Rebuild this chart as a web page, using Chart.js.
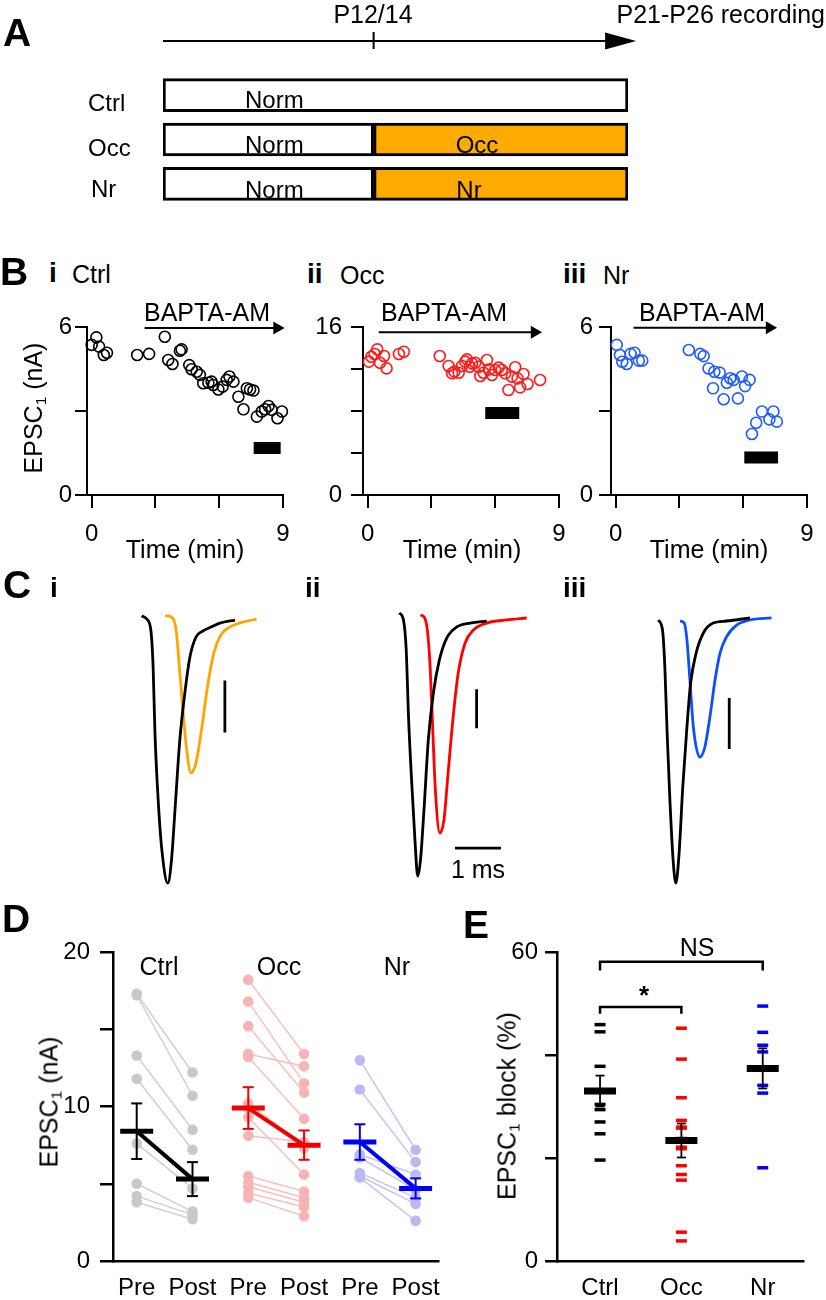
<!DOCTYPE html>
<html><head><meta charset="utf-8"><title>Figure</title>
<script src="https://cdn.jsdelivr.net/npm/chart.js@4.4.1/dist/chart.umd.min.js"></script>
<style>
html,body{margin:0;padding:0;background:#fff;}
#fig{position:relative;width:826px;height:1300px;overflow:hidden;background:#fff;font-family:"Liberation Sans",Arial,Helvetica,sans-serif;color:#000;}
#fig canvas{position:absolute;}
.t{position:absolute;white-space:nowrap;}
.t sub{font-size:0.62em;line-height:0;vertical-align:-0.28em;}
</style></head><body><div id="fig"></div>
<script>
// ================= DATA =================
// A: rearing schedule (schematic postnatal days)
const groupsA = ['Ctrl', 'Occ', 'Nr'];
const rearStart = 0;
const rearSwitch = 13;      // P12/14
const rearEnd = 28.7;       // P21-P26 recording
const timelineEnd = 29.2;

// B: EPSC1 (nA) vs time (min)
const bTimeTicks = [0, 3, 6, 9];
const bTimeLabels = ['0', '', '', '9'];
const biTime = [0.0,0.22,0.35,0.57,0.72,2.14,2.70,3.44,3.60,3.80,4.15,4.23,4.59,4.70,4.94,5.09,5.25,5.49,5.64,5.72,5.96,6.16,6.35,6.48,6.67,6.90,7.14,7.30,7.45,7.61,7.77,8.00,8.16,8.32,8.47,8.74,8.95];
const biAmp  = [5.36,5.63,5.30,5.00,5.08,5.00,5.04,5.65,4.82,4.68,5.15,5.20,4.64,4.49,4.40,4.29,3.99,4.01,4.05,3.93,3.77,3.87,4.11,4.23,4.05,3.51,3.06,3.81,3.77,3.73,2.80,2.98,3.06,3.18,3.04,2.74,2.98];
const biiTime = [0.06,0.17,0.33,0.45,0.58,0.77,0.89,1.47,1.70,3.39,3.81,3.97,4.08,4.28,4.44,4.59,4.67,4.80,4.91,5.06,5.22,5.30,5.45,5.61,5.73,5.85,6.00,6.16,6.31,6.47,6.62,6.78,6.94,7.05,7.17,7.33,7.52,8.11];
const biiAmp  = [12.7,13.17,13.43,13.87,12.6,13.24,12.06,13.43,13.65,13.24,12.29,11.59,11.75,11.65,12.29,12.7,12.92,12.22,12.54,12.6,12.22,11.33,11.65,12.86,11.97,11.43,11.9,12.13,11.9,11.59,10.0,11.27,12.16,11.11,10.25,11.52,10.57,10.95];
const biiiTime = [0.05,0.20,0.31,0.52,0.70,0.89,1.09,1.25,3.44,3.98,4.14,4.37,4.64,4.89,4.58,5.08,5.23,5.39,5.55,5.75,5.94,6.09,6.30,6.41,6.61,6.88,7.23,7.42,7.58];
const biiiAmp  = [5.36,5.00,4.76,4.68,5.04,5.08,4.80,4.80,5.18,5.04,4.96,4.52,4.40,4.37,3.81,3.42,4.01,4.17,4.11,3.45,4.23,3.89,4.11,2.18,2.58,2.98,2.70,2.98,2.62];
const biYTicks = [0, 3, 6];      const biYLabels = ['0', '', '6'];
const biiYTicks = [0, 4, 8, 12, 16]; const biiYLabels = ['0', '', '', '', '16'];
const biiiYTicks = [0, 3, 6];    const biiiYLabels = ['0', '', '6'];
const biBapta = [2.49, 8.72];   const biBaptaLevel = 5.96;
const biiBapta = [0.52, 7.85];  const biiBaptaLevel = 15.5;
const biiiBapta = [0.84, 7.24]; const biiiBaptaLevel = 5.97;
const biWindow = [7.62, 8.89];   const biWindowLevel = 1.68;
const biiWindow = [5.53, 7.13];  const biiWindowLevel = 7.8;
const biiiWindow = [6.05, 7.64]; const biiiWindowLevel = 1.34;

// C: example EPSC traces (time ms, current nA)
const ciPreT  = [0.47,0.58,0.67,0.72,0.76,0.83,0.91,1.04,1.12,1.20,1.30,1.41,1.52,1.65,1.80,1.99,2.17,2.50];
const ciPreI  = [0.04,-0.02,-0.23,-0.94,-2.21,-3.50,-4.46,-5.10,-4.65,-3.63,-2.35,-1.44,-0.75,-0.37,-0.25,-0.17,-0.10,-0.04];
const ciPostT = [0.98,1.12,1.22,1.29,1.38,1.45,1.54,1.65,1.78,1.90,2.04,2.19,2.39,2.67,2.97];
const ciPostI = [0.04,0.02,-0.23,-0.94,-1.90,-2.54,-2.98,-2.79,-2.10,-1.33,-0.67,-0.33,-0.17,-0.08,-0.02];
const ciiPreT  = [0.42,0.51,0.57,0.62,0.69,0.76,0.82,0.88,0.96,1.05,1.16,1.29,1.45,1.67,1.96,2.32];
const ciiPreI  = [0.21,-0.15,-1.69,-5.13,-8.51,-11.44,-13.28,-12.46,-9.74,-6.31,-3.90,-2.21,-1.08,-0.51,-0.31,-0.21];
const ciiPostT = [0.88,0.96,1.03,1.09,1.15,1.20,1.30,1.39,1.48,1.59,1.70,1.85,2.03,2.32,2.75,3.19];
const ciiPostI = [0.10,0.0,-0.67,-2.56,-5.95,-8.72,-11.08,-10.41,-8.00,-5.13,-2.87,-1.33,-0.67,-0.31,-0.15,-0.05];
const ciiiPreT  = [0.40,0.49,0.54,0.59,0.65,0.72,0.78,0.85,0.93,1.02,1.10,1.22,1.38,1.59,1.88,2.39];
const ciiiPreI  = [0.0,-0.20,-0.92,-2.22,-3.53,-4.71,-5.16,-4.57,-3.27,-2.10,-1.24,-0.65,-0.25,-0.06,-0.02,0.04];
const ciiiPostT = [0.87,0.96,1.02,1.09,1.16,1.30,1.41,1.52,1.63,1.74,1.88,2.10,2.39,2.86];
const ciiiPostI = [-0.02,-0.06,-0.39,-1.24,-2.10,-2.69,-2.49,-1.90,-1.18,-0.65,-0.33,-0.10,0.0,0.04];
// scale bars: [time, from, to]
const ciBarV = [2.28, -1.2, -2.2];    // 1 nA
const ciiBarV = [2.10, -3.7, -5.7];   // 2 nA
const ciiiBarV = [1.94, -1.53, -2.53];// 1 nA
const ciiBarH = [1.63, 2.63, -11.85]; // 1 ms

// D: EPSC1 pre/post BAPTA-AM (nA)
const dXTicks = [1, 2, 3, 4, 5, 6];
const dXLabels = ['Pre', 'Post', 'Pre', 'Post', 'Pre', 'Post'];
const dYTicks = [0, 5, 10, 15, 20];
const dYLabels = ['0', '', '10', '', '20'];
const dCtrlPre  = [17.3,17.2,13.3,11.8,7.6,5.0,4.2,3.8];
const dCtrlPost = [12.2,10.7,8.5,7.2,4.7,3.2,3.0,2.7];
const dOccPre  = [18.2,16.8,15.2,13.4,13.2,10.2,9.9,9.3,8.1,5.5,5.1,4.8,4.4,4.1];
const dOccPost = [13.4,11.5,10.9,12.6,9.2,7.5,7.3,5.6,7.7,4.5,4.1,3.8,3.5,2.9];
const dNrPre  = [13.0,11.1,6.9,6.7,5.7,5.5,5.4];
const dNrPost = [7.2,6.4,5.6,4.6,4.1,3.7,2.6];
const dCtrlMean = [8.4, 5.3]; const dCtrlSem = [1.8, 1.1];
const dOccMean  = [9.9, 7.5]; const dOccSem  = [1.35, 0.95];
const dNrMean   = [7.7, 4.7]; const dNrSem   = [1.15, 0.65];

// E: EPSC1 block (%)
const eCats = ['Ctrl', 'Occ', 'Nr'];
const eYTicks = [0, 20, 40, 60];
const eYLabels = ['0', '', '', '60'];
const eCtrl = [45.9,44.5,37.8,30.4,29.4,27.0,24.7,19.6];
const eOcc  = [45.2,39.2,31.7,27.3,26.0,25.8,23.8,22.1,21.8,18.5,16.8,15.7,5.6,3.9];
const eNr   = [49.5,44.4,41.9,40.6,34.1,32.6,18.1];
const eMean = [33.0, 23.4, 37.4];
const eSem  = [3.0, 3.3, 3.9];
const eBracketFrom = [1, 1];
const eBracketTo   = [2, 3];
const eBracketLevel = [49.3, 58.1];
const eBracketDrop  = [1.3, 1.7];

// ================= RENDERING =================
const FONT = '"Liberation Sans", Arial, Helvetica, sans-serif';
Chart.defaults.font.family = FONT;
Chart.defaults.font.size = 24;
Chart.defaults.color = '#000';
const fig = document.getElementById('fig');
const common = { responsive: false, animation: false, events: [], devicePixelRatio: 1,
  plugins: { legend: { display: false }, tooltip: { enabled: false } } };

function mk(left, top, w, h) {
  const c = document.createElement('canvas');
  c.width = w; c.height = h;
  c.style.left = left + 'px'; c.style.top = top + 'px';
  c.style.width = w + 'px'; c.style.height = h + 'px';
  fig.appendChild(c);
  return c.getContext('2d');
}
function txt(html, x, base, o = {}) {
  const size = o.size || 24;
  const d = document.createElement('div');
  d.className = 't'; d.innerHTML = html;
  d.style.fontSize = size + 'px'; d.style.lineHeight = size + 'px';
  d.style.fontWeight = o.bold ? 'bold' : 'normal';
  d.style.left = x + 'px'; d.style.top = (base - 0.8465 * size) + 'px';
  if (o.align === 'center') d.style.transform = 'translateX(-50%)';
  if (o.align === 'right') d.style.transform = 'translateX(-100%)';
  fig.appendChild(d);
}
function vtxt(html, cx, cy, size = 24) {
  const d = document.createElement('div');
  d.className = 't'; d.innerHTML = html;
  d.style.fontSize = size + 'px'; d.style.lineHeight = size + 'px';
  d.style.left = cx + 'px'; d.style.top = cy + 'px';
  d.style.transform = 'translate(-50%,-50%) rotate(-90deg)';
  fig.appendChild(d);
}
function axis(o) {
  return {
    type: 'linear', position: o.pos, min: o.min, max: o.max,
    afterBuildTicks: s => { s.ticks = o.ticks.map(v => ({ value: v })); },
    afterFit: s => {
      if (o.pos === 'left') s.width = o.size; else s.height = o.size;
      s.paddingLeft = 0; s.paddingRight = 0; s.paddingTop = 0; s.paddingBottom = 0;
    },
    ticks: { autoSkip: false, maxRotation: 0, minRotation: 0, padding: o.pad, color: '#000',
      font: { size: 24, family: FONT }, callback: (v, i) => o.labels[i] },
    grid: { display: o.tickLen > 0, drawOnChartArea: false, drawTicks: o.tickLen > 0,
      tickLength: o.tickLen, color: '#000', lineWidth: o.lw },
    border: { display: true, color: '#000', width: o.lw }
  };
}

// ---------- Panel A ----------
const timelinePlugin = {
  id: 'timeline',
  afterDatasetsDraw(chart) {
    const { ctx, scales: { x } } = chart;
    const y = 41;
    const x0 = x.getPixelForValue(rearStart), x1 = x.getPixelForValue(timelineEnd), xm = x.getPixelForValue(rearSwitch);
    ctx.save();
    ctx.strokeStyle = '#000'; ctx.fillStyle = '#000'; ctx.lineWidth = 2;
    ctx.beginPath(); ctx.moveTo(x0, y); ctx.lineTo(x1 - 20, y); ctx.stroke();
    ctx.beginPath(); ctx.moveTo(x1, y); ctx.lineTo(x1 - 31, y - 8.5); ctx.lineTo(x1 - 31, y + 8.5); ctx.closePath(); ctx.fill();
    ctx.beginPath(); ctx.moveTo(xm, y - 9); ctx.lineTo(xm, y + 8); ctx.stroke();
    ctx.restore();
  }
};
new Chart(mk(0, 0, 826, 210), {
  type: 'bar',
  data: { labels: groupsA, datasets: [
    { data: groupsA.map((g, i) => [rearStart, i === 0 ? rearEnd : rearSwitch]), backgroundColor: '#fff',
      borderColor: '#000', borderWidth: 3, borderSkipped: false, barThickness: 33, grouped: false },
    { data: groupsA.map((g, i) => i === 0 ? null : [rearSwitch, rearEnd]), backgroundColor: '#ffaa00',
      borderColor: '#000', borderWidth: 3, borderSkipped: false, barThickness: 33, grouped: false }
  ] },
  options: { ...common, indexAxis: 'y',
    layout: { padding: { left: 163, right: 198, top: 73, bottom: 4 } },
    scales: { x: { type: 'linear', display: false, min: rearStart, max: rearEnd }, y: { display: false } } },
  plugins: [timelinePlugin]
});
txt('A', 3, 46, { size: 39, bold: true });
txt('P12/14', 373, 23, { size: 25, align: 'center' });
txt('P21-P26 recording', 825, 23, { size: 25, align: 'right' });
txt('Ctrl', 88, 111); txt('Occ', 88, 156); txt('Nr', 91, 197);
txt('Norm', 245, 108); txt('Norm', 245, 153); txt('Norm', 245, 198);
txt('Occ', 477, 153, { align: 'center' }); txt('Nr', 469, 198, { align: 'center' });

// ---------- Panel B ----------
function panelB(c) {
  new Chart(mk(c.left, 300, c.w, 270), {
    type: 'scatter',
    data: { datasets: [
      { data: c.T.map((t, i) => ({ x: t, y: c.V[i] })), showLine: false, pointRadius: 5.5, pointBorderWidth: 1.6,
        pointBorderColor: c.color, pointBackgroundColor: 'rgba(0,0,0,0)', clip: false },
      { data: c.bapta.map(t => ({ x: t, y: c.baptaY })), showLine: true, borderColor: '#000', borderWidth: 2,
        pointRadius: [0, 7.5], pointStyle: 'triangle', pointRotation: 90, pointBackgroundColor: '#000',
        pointBorderColor: '#000', pointBorderWidth: 0, clip: false },
      { data: c.win.map(t => ({ x: t, y: c.winY })), showLine: true, borderColor: '#000', borderWidth: 12,
        borderCapStyle: 'butt', pointRadius: 0, clip: false }
    ] },
    options: { ...common,
      layout: { padding: { left: 0, right: c.padR, top: 27, bottom: 0 } },
      scales: {
        x: axis({ pos: 'bottom', min: -0.22, max: 9, ticks: bTimeTicks, labels: bTimeLabels, tickLen: 13, pad: 12, lw: 2, size: 75 }),
        y: axis({ pos: 'left', min: 0, max: c.yMax, ticks: c.yTicks, labels: c.yLabels, tickLen: 12, pad: c.yPad, lw: 2, size: c.yW })
      } }
  });
}
panelB({ left: 0, w: 300, padR: 17, yW: 87, yPad: 3, T: biTime, V: biAmp, color: '#000', yMax: 6, yTicks: biYTicks, yLabels: biYLabels,
  bapta: biBapta, baptaY: biBaptaLevel, win: biWindow, winY: biWindowLevel });
panelB({ left: 280, w: 290, padR: 11, yW: 83, yPad: 9, T: biiTime, V: biiAmp, color: '#ff1a1a', yMax: 16, yTicks: biiYTicks, yLabels: biiYLabels,
  bapta: biiBapta, baptaY: biiBaptaLevel, win: biiWindow, winY: biiWindowLevel });
panelB({ left: 540, w: 286, padR: 19, yW: 71, yPad: 6, T: biiiTime, V: biiiAmp, color: '#1f5bff', yMax: 6, yTicks: biiiYTicks, yLabels: biiiYLabels,
  bapta: biiiBapta, baptaY: biiiBaptaLevel, win: biiiWindow, winY: biiiWindowLevel });
txt('B', 0, 285, { size: 39, bold: true });
txt('i', 49, 283, { size: 28, bold: true }); txt('Ctrl', 72, 283, { size: 25 });
txt('ii', 307, 284, { size: 28, bold: true }); txt('Occ', 340, 284, { size: 25 });
txt('iii', 563, 284, { size: 28, bold: true }); txt('Nr', 603, 284, { size: 25 });
txt('BAPTA-AM', 207, 321, { size: 25, align: 'center' });
txt('BAPTA-AM', 444, 321, { size: 25, align: 'center' });
txt('BAPTA-AM', 702, 321, { size: 25, align: 'center' });
txt('Time (min)', 185, 558, { size: 25, align: 'center' });
txt('Time (min)', 462, 558, { size: 25, align: 'center' });
txt('Time (min)', 709, 558, { size: 25, align: 'center' });
vtxt('EPSC<sub>1</sub> (nA)', 33, 408, 25);

// ---------- Panel C ----------
function panelC(c) {
  const ds = [
    { data: c.preT.map((t, i) => ({ x: t, y: c.preI[i] })), borderColor: '#000' },
    { data: c.postT.map((t, i) => ({ x: t, y: c.postI[i] })), borderColor: c.color },
    { data: [{ x: c.barV[0], y: c.barV[1] }, { x: c.barV[0], y: c.barV[2] }], borderColor: '#000', cubicInterpolationMode: 'default' }
  ];
  if (c.barH) ds.push({ data: [{ x: c.barH[0], y: c.barH[2] }, { x: c.barH[1], y: c.barH[2] }], borderColor: '#000', cubicInterpolationMode: 'default' });
  ds.forEach(d => Object.assign(d, { showLine: true, pointRadius: 0, borderWidth: 2.8, clip: false,
    cubicInterpolationMode: d.cubicInterpolationMode || 'monotone' }));
  new Chart(mk(c.left, 600, 180, 300), {
    type: 'scatter', data: { datasets: ds },
    options: { ...common, layout: { padding: 0 },
      scales: { x: { type: 'linear', display: false, min: 0, max: 180 / 46 },
                y: { type: 'linear', display: false, min: c.yMin, max: c.yMax } } }
  });
}
panelC({ left: 120, preT: ciPreT, preI: ciPreI, postT: ciPostT, postI: ciPostI, color: '#ffa500', barV: ciBarV, yMin: -5.423, yMax: 0.346 });
panelC({ left: 380, preT: ciiPreT, preI: ciiPreI, postT: ciiPostT, postI: ciiPostI, color: '#ff0000', barV: ciiBarV, barH: ciiBarH, yMin: -14.51, yMax: 0.872 });
panelC({ left: 640, preT: ciiiPreT, preI: ciiiPreI, postT: ciiiPostT, postI: ciiiPostI, color: '#0a50ff', barV: ciiiBarV, yMin: -5.49, yMax: 0.392 });
txt('C', 3, 598, { size: 39, bold: true });
txt('i', 50, 598, { size: 28, bold: true });
txt('ii', 305, 598, { size: 28, bold: true });
txt('iii', 563, 598, { size: 28, bold: true });
txt('1 ms', 478, 878, { size: 25, align: 'center' });

// ---------- Panel D ----------
const dGroups = [
  { pre: dCtrlPre, post: dCtrlPost, mean: dCtrlMean, sem: dCtrlSem, x: [dXTicks[0], dXTicks[1]], c: '#000000', pc: '#c8c8c8', lc: '#d0d0d0' },
  { pre: dOccPre, post: dOccPost, mean: dOccMean, sem: dOccSem, x: [dXTicks[2], dXTicks[3]], c: '#f00000', pc: '#f9b3b3', lc: '#f7c0c0' },
  { pre: dNrPre, post: dNrPost, mean: dNrMean, sem: dNrSem, x: [dXTicks[4], dXTicks[5]], c: '#0000ff', pc: '#b9b9f4', lc: '#c4c4f6' }
];
const dsD = [];
dGroups.forEach(g => {
  dsD.push({ data: g.mean.map((m, i) => ({ x: g.x[i], y: m })), showLine: true, borderColor: g.c, borderWidth: 4,
    pointStyle: 'line', pointRadius: 16.5, pointBorderWidth: 5, pointBorderColor: g.c, order: 0, clip: false });
  g.mean.forEach((m, i) => dsD.push({ data: [{ x: g.x[i], y: m - g.sem[i] }, { x: g.x[i], y: m + g.sem[i] }], showLine: true,
    borderColor: g.c, borderWidth: 2, pointStyle: 'line', pointRadius: 5.5, pointBorderWidth: 2, pointBorderColor: g.c, order: 1, clip: false }));
  g.pre.forEach((v, i) => dsD.push({ data: [{ x: g.x[0], y: v }, { x: g.x[1], y: g.post[i] }], showLine: true,
    borderColor: g.lc, borderWidth: 1.5, pointRadius: 5.3, pointBorderWidth: 0, pointBackgroundColor: g.pc, order: 2, clip: false }));
});
new Chart(mk(0, 900, 460, 400), {
  type: 'scatter', data: { datasets: dsD },
  options: { ...common, layout: { padding: { left: 0, right: 18, top: 52, bottom: 0 } },
    scales: {
      x: axis({ pos: 'bottom', min: 0.575, max: 6.41, ticks: dXTicks, labels: dXLabels, tickLen: 0, pad: 13, lw: 2.5, size: 39 }),
      y: axis({ pos: 'left', min: 0, max: 20, ticks: dYTicks, labels: dYLabels, tickLen: 13, pad: 10, lw: 2.5, size: 113 })
    } }
});
txt('D', 2, 932, { size: 39, bold: true });
vtxt('EPSC<sub>1</sub> (nA)', 49, 1102, 25);
txt('Ctrl', 159, 975, { size: 25, align: 'center' });
txt('Occ', 279, 975, { size: 25, align: 'center' });
txt('Nr', 397, 975, { size: 25, align: 'center' });

// ---------- Panel E ----------
const eSeries = [eCtrl, eOcc, eNr];
const eColors = ['#000000', '#ff0000', '#0000ff'];
const dsE = [];
dsE.push({ data: eMean.map((m, i) => ({ x: i + 1, y: m })), showLine: false, pointStyle: 'line', pointRadius: 16,
  pointBorderWidth: 7, pointBorderColor: '#000', order: 0, clip: false });
eMean.forEach((m, i) => dsE.push({ data: [{ x: i + 1, y: m - eSem[i] }, { x: i + 1, y: m + eSem[i] }], showLine: true,
  borderColor: '#000', borderWidth: 1.8, pointStyle: 'line', pointRadius: 4.5, pointBorderWidth: 1.8, pointBorderColor: '#000', order: 1, clip: false }));
eSeries.forEach((s, i) => dsE.push({ data: s.map(v => ({ x: i + 1, y: v })), showLine: false, pointStyle: 'line', pointRadius: 5.5,
  pointBorderWidth: 3.5, pointBorderColor: eColors[i], order: 2, clip: false }));
eBracketFrom.forEach((f, i) => dsE.push({ data: [
  { x: f, y: eBracketLevel[i] - eBracketDrop[i] }, { x: f, y: eBracketLevel[i] },
  { x: eBracketTo[i], y: eBracketLevel[i] }, { x: eBracketTo[i], y: eBracketLevel[i] - eBracketDrop[i] }],
  showLine: true, borderColor: '#000', borderWidth: 2.5, pointRadius: 0, order: 3, clip: false }));
new Chart(mk(420, 900, 406, 400), {
  type: 'scatter', data: { datasets: dsE },
  options: { ...common, layout: { padding: { left: 0, right: 23, top: 52, bottom: 0 } },
    scales: {
      x: axis({ pos: 'bottom', min: 0.471, max: 3.495, ticks: [1, 2, 3], labels: eCats, tickLen: 0, pad: 13, lw: 2.5, size: 39 }),
      y: axis({ pos: 'left', min: 0, max: 60, ticks: eYTicks, labels: eYLabels, tickLen: 12, pad: 7, lw: 2.5, size: 137 })
    } }
});
txt('E', 463, 938, { size: 39, bold: true });
vtxt('EPSC<sub>1</sub> block (%)', 507, 1106, 25);
txt('*', 644, 1004, { size: 26, bold: true, align: 'center' });
txt('NS', 697, 956, { size: 25, align: 'center' });
</script></body></html>
